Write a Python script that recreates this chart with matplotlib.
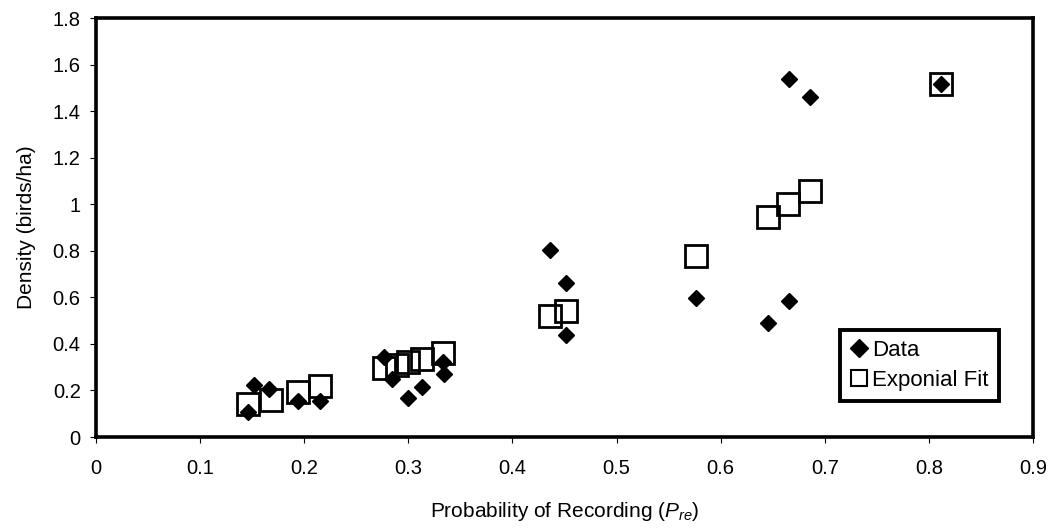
import matplotlib.pyplot as plt
from matplotlib.lines import Line2D
from matplotlib.ticker import FuncFormatter

plt.rcParams['font.family'] = ['Liberation Sans', 'DejaVu Sans']
plt.rcParams['mathtext.fontset'] = 'custom'
plt.rcParams['mathtext.rm'] = 'Liberation Sans'
plt.rcParams['mathtext.it'] = 'Liberation Sans:italic'

# Data points (diamonds)
data_x = [0.146, 0.152, 0.166, 0.194, 0.215,
          0.277, 0.284, 0.300, 0.313, 0.333, 0.334,
          0.4365, 0.451, 0.451,
          0.576, 0.645, 0.666, 0.666, 0.686, 0.8115]
data_y = [0.107, 0.225, 0.205, 0.155, 0.155,
          0.345, 0.248, 0.167, 0.213, 0.322, 0.270,
          0.805, 0.660, 0.440,
          0.597, 0.490, 0.585, 1.540, 1.462, 1.516]

# Exponential fit (open squares)
fit_x = [0.146, 0.168, 0.194, 0.215,
         0.277, 0.289, 0.300, 0.313, 0.333,
         0.4365, 0.451,
         0.576, 0.645, 0.665, 0.686, 0.8115]
fit_y = [0.140, 0.160, 0.195, 0.218,
         0.298, 0.310, 0.322, 0.335, 0.360,
         0.520, 0.540,
         0.777, 0.945, 1.000, 1.058, 1.516]

fig = plt.figure(figsize=(10.5, 5.28), dpi=100)
ax = fig.add_axes([0.0914, 0.1723, 0.8924, 0.7936])

ax.plot(fit_x, fit_y, linestyle='none', marker='s', markersize=16,
        markerfacecolor='none', markeredgecolor='black', markeredgewidth=2.0, zorder=2)
ax.plot(data_x, data_y, linestyle='none', marker='D', markersize=8.5,
        color='black', zorder=3)

ax.set_xlim(0, 0.9)
ax.set_ylim(0, 1.8)
ax.set_xticks([0, 0.1, 0.2, 0.3, 0.4, 0.5, 0.6, 0.7, 0.8, 0.9])
ax.set_yticks([0, 0.2, 0.4, 0.6, 0.8, 1.0, 1.2, 1.4, 1.6, 1.8])
fmt = FuncFormatter(lambda v, p: '%g' % round(v, 2))
ax.xaxis.set_major_formatter(fmt)
ax.yaxis.set_major_formatter(fmt)
ax.tick_params(direction='out', length=4, width=0.8, labelsize=14.5)
ax.tick_params(axis='x', pad=12)
ax.tick_params(axis='y', pad=7)

for s in ax.spines.values():
    s.set_linewidth(2.6)

ax.set_xlabel(r'Probability of Recording ($P_{re}$)', fontsize=15, labelpad=16)
ax.set_ylabel('Density (birds/ha)', fontsize=15, labelpad=12)

handles = [
    Line2D([], [], linestyle='none', marker='D', markersize=9, color='black'),
    Line2D([], [], linestyle='none', marker='s', markersize=11,
           markerfacecolor='none', markeredgecolor='black', markeredgewidth=1.5),
]
leg = ax.legend(handles, ['Data', 'Exponial Fit'], loc='lower left',
                bbox_to_anchor=(0.794, 0.086), fontsize=16, fancybox=False,
                handlelength=0.8, handletextpad=0.2, borderpad=0.45,
                labelspacing=0.4, borderaxespad=0, framealpha=1)
leg.get_frame().set_edgecolor('black')
leg.get_frame().set_linewidth(2.8)

fig.savefig('out.png', dpi=100)
